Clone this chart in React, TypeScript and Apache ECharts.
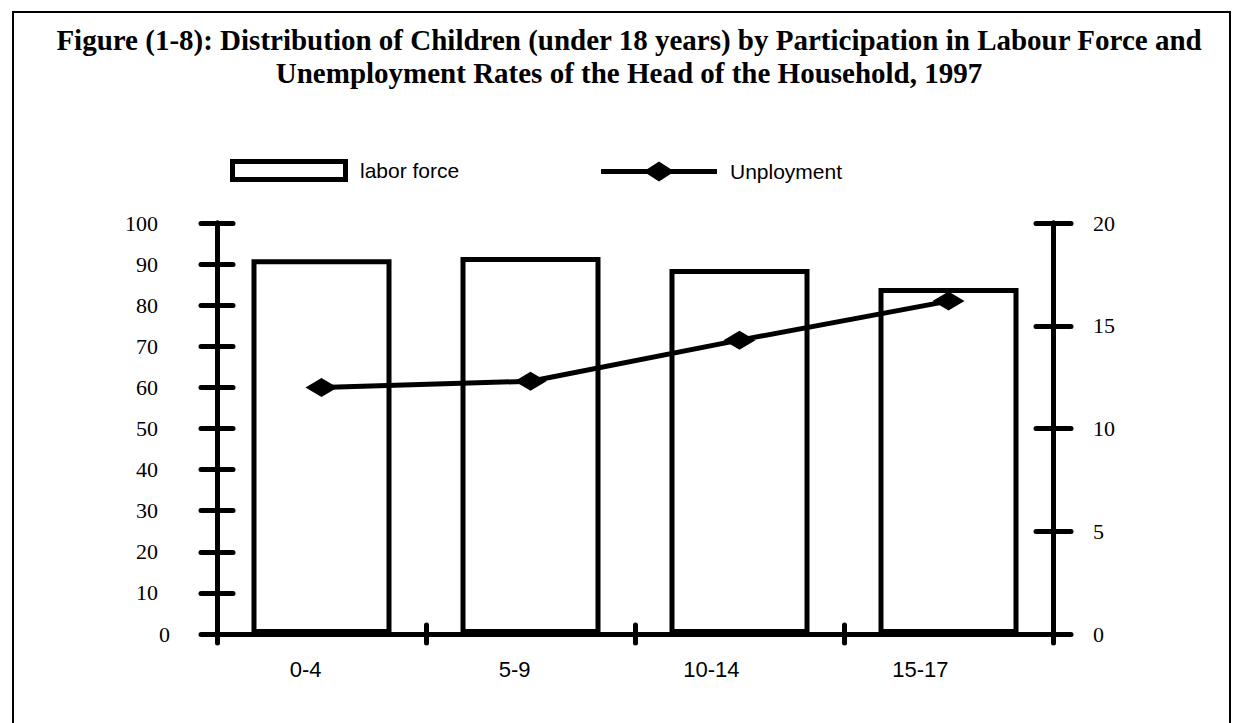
import React, { useEffect, useRef } from "react";
import * as echarts from "echarts";

const categories = ["0-4", "5-9", "10-14", "15-17"];
const laborForce = [91.2, 91.7, 88.8, 84.2];
const unemployment = [12.0, 12.3, 14.3, 16.2];
const leftTicks = { min: 0, max: 100, interval: 10 };
const rightTicks = { min: 0, max: 20, interval: 5 };
const titleText =
  "Figure (1-8): Distribution of Children (under 18 years) by Participation in Labour Force and\nUnemployment Rates of the Head of the Household, 1997";
const barName = "labor force";
const lineName = "Unployment";

const SERIF = "'Liberation Serif', 'Times New Roman', serif";
const SANS = "'Liberation Sans', Arial, sans-serif";

export default function App() {
  const ref = useRef<HTMLDivElement>(null);
  useEffect(() => {
    if (!ref.current) return;
    const chart = echarts.init(ref.current, undefined, { renderer: "svg" });
    const axisLine = { show: true, lineStyle: { color: "#000", width: 5 } };
    const tickStyle = { color: "#000", width: 5, cap: "round" };
    const leftLabel = {
      margin: 47,
      formatter: (v: number) => (v === 0 ? "{z|0}" : "{n|" + v + "}"),
      rich: {
        n: { fontFamily: SERIF, fontSize: 22, color: "#000", padding: [0, 12, 0, 0] },
        z: { fontFamily: SERIF, fontSize: 22, color: "#000" },
      },
    };
    chart.setOption({
      animation: false,
      backgroundColor: "#fff",
      graphic: [
        {
          type: "rect",
          shape: { x: 13, y: 12, width: 1217, height: 720 },
          style: { fill: "none", stroke: "#000", lineWidth: 2 },
          silent: true,
        },
        {
          type: "text",
          x: 629,
          y: 56.5,
          style: {
            text: titleText,
            align: "center",
            verticalAlign: "middle",
            fontFamily: SERIF,
            fontWeight: "bold",
            fontSize: 29,
            lineHeight: 33,
            fill: "#000",
          },
        },
      ],
      legend: [
        {
          data: [
            {
              name: barName,
              icon: "path://M0,0 L118,0 L118,23 L0,23 Z M5,5 L5,18 L113,18 L113,5 Z",
            },
          ],
          left: 230,
          top: 159,
          padding: 0,
          itemWidth: 118,
          itemHeight: 23,
          itemStyle: { color: "#000", borderWidth: 0 },
          textStyle: { fontFamily: SANS, fontSize: 21, color: "#000", padding: [0, 0, 0, 7] },
          selectedMode: false,
        },
        {
          data: [
            {
              name: lineName,
              icon: "path://M0,7.5 L116,7.5 L116,12.5 L0,12.5 Z M42.5,10 L58,0 L73.5,10 L58,20 Z",
            },
          ],
          left: 601,
          top: 161,
          padding: 0,
          itemWidth: 116,
          itemHeight: 20,
          itemStyle: { color: "#000", borderWidth: 0 },
          textStyle: { fontFamily: SANS, fontSize: 21, color: "#000", padding: [0, 0, 0, 8] },
          selectedMode: false,
        },
      ],
      grid: { left: 217, right: 181, top: 223, bottom: 89, containLabel: false },
      xAxis: [
        {
          type: "category",
          data: categories,
          position: "bottom",
          axisLine,
          axisTick: { show: true, inside: false, length: 9, lineStyle: tickStyle },
          axisLabel: {
            fontFamily: SANS,
            fontSize: 22,
            color: "#000",
            margin: 24,
            align: "right",
          },
          splitLine: { show: false },
        },
        {
          type: "category",
          data: categories,
          position: "bottom",
          axisLine,
          axisTick: { show: true, inside: true, length: 9, lineStyle: tickStyle },
          axisLabel: { show: false },
          splitLine: { show: false },
        },
      ],
      yAxis: [
        {
          type: "value",
          position: "left",
          ...leftTicks,
          axisLine,
          axisTick: { show: true, inside: false, length: 16, lineStyle: tickStyle },
          axisLabel: leftLabel,
          splitLine: { show: false },
        },
        {
          type: "value",
          position: "left",
          ...leftTicks,
          axisLine,
          axisTick: { show: true, inside: true, length: 16, lineStyle: tickStyle },
          axisLabel: { show: false },
          splitLine: { show: false },
        },
        {
          type: "value",
          position: "right",
          ...rightTicks,
          axisLine,
          axisTick: { show: true, inside: false, length: 18, lineStyle: tickStyle },
          axisLabel: { fontFamily: SERIF, fontSize: 22, color: "#000", margin: 40 },
          splitLine: { show: false },
        },
        {
          type: "value",
          position: "right",
          ...rightTicks,
          axisLine,
          axisTick: { show: true, inside: true, length: 17, lineStyle: tickStyle },
          axisLabel: { show: false },
          splitLine: { show: false },
        },
      ],
      series: [
        {
          name: barName,
          type: "bar",
          data: laborForce,
          xAxisIndex: 0,
          yAxisIndex: 0,
          barWidth: 140,
          itemStyle: { color: "#fff", borderColor: "#000", borderWidth: 5 },
          z: 2,
        },
        {
          name: lineName,
          type: "line",
          data: unemployment,
          xAxisIndex: 0,
          yAxisIndex: 2,
          symbol: "diamond",
          symbolSize: [32, 19],
          lineStyle: { color: "#000", width: 5 },
          itemStyle: { color: "#000" },
          z: 3,
        },
      ],
    });
    return () => chart.dispose();
  }, []);
  return (
    <div
      ref={ref}
      style={{ position: "fixed", left: 0, top: 0, width: 1234, height: 723, background: "#fff" }}
    />
  );
}
